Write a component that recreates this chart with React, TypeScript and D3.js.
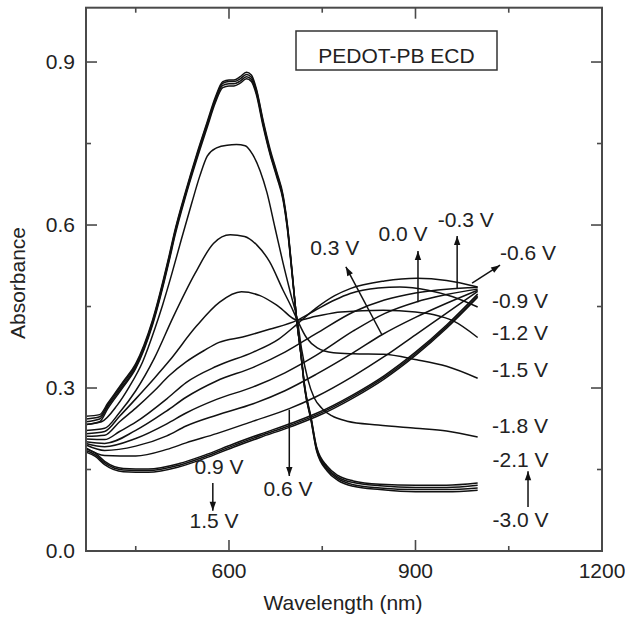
import React from "react";
import * as d3 from "d3";

// ---------- axes ----------
const xDomain = [370, 1200];
const yDomain = [0, 1.0];
const xMajorTicks = [600, 900, 1200];
const xMinorTicks = [450, 750, 1050];
const yMajorTicks = [0, 0.3, 0.6, 0.9];
const yMinorTicks = [0.15, 0.45, 0.75];
const xTickLabels = ["600", "900", "1200"];
const yTickLabels = ["0.0", "0.3", "0.6", "0.9"];
const xTitle = "Wavelength (nm)";
const yTitle = "Absorbance";
const boxTitle = "PEDOT-PB ECD";

// ---------- spectra: [wavelength nm, absorbance] ----------
const vM30 = [[370,0.233],[392,0.238],[405,0.262],[430,0.302],[450,0.336],[477,0.416],[504,0.535],[513,0.58],[530,0.652],[548,0.72],[565,0.78],[578,0.825],[590,0.853],[600,0.856],[608,0.856],[618,0.861],[628,0.869],[636,0.864],[644,0.84],[655,0.781],[666,0.73],[677,0.688],[687,0.646],[694,0.592],[701,0.515],[709,0.425],[716,0.358],[722,0.297],[732,0.24],[741,0.184],[758,0.147],[775,0.13],[800,0.119],[843,0.113],[900,0.109],[950,0.109],[1000,0.112]];
const vM27 = [[370,0.238],[392,0.243],[405,0.266],[430,0.305],[450,0.339],[477,0.419],[504,0.538],[513,0.584],[530,0.655],[548,0.724],[565,0.784],[578,0.829],[590,0.857],[600,0.86],[608,0.86],[618,0.865],[628,0.873],[636,0.868],[644,0.844],[655,0.785],[666,0.733],[677,0.691],[687,0.649],[694,0.595],[701,0.517],[709,0.425],[716,0.359],[722,0.298],[732,0.242],[741,0.186],[758,0.15],[775,0.133],[800,0.122],[843,0.116],[900,0.113],[950,0.113],[1000,0.116]];
const vM24 = [[370,0.243],[392,0.247],[405,0.269],[430,0.309],[450,0.342],[477,0.422],[504,0.542],[513,0.587],[530,0.658],[548,0.727],[565,0.787],[578,0.832],[590,0.861],[600,0.864],[608,0.864],[618,0.869],[628,0.877],[636,0.872],[644,0.848],[655,0.789],[666,0.736],[677,0.694],[687,0.652],[694,0.598],[701,0.519],[709,0.425],[716,0.36],[722,0.3],[732,0.244],[741,0.189],[758,0.153],[775,0.136],[800,0.126],[843,0.12],[900,0.117],[950,0.117],[1000,0.121]];
const vM21 = [[370,0.248],[392,0.251],[405,0.272],[430,0.312],[450,0.345],[477,0.425],[504,0.545],[513,0.59],[530,0.661],[548,0.73],[565,0.79],[578,0.835],[590,0.864],[600,0.867],[608,0.867],[618,0.873],[628,0.881],[636,0.876],[644,0.851],[655,0.792],[666,0.74],[677,0.697],[687,0.655],[694,0.6],[701,0.521],[709,0.425],[716,0.361],[722,0.302],[732,0.246],[741,0.191],[758,0.156],[775,0.139],[800,0.129],[843,0.123],[900,0.121],[950,0.121],[1000,0.125]];
const vM18 = [[370,0.233],[395,0.238],[420,0.268],[440,0.303],[461,0.348],[481,0.41],[493,0.452],[508,0.51],[523,0.572],[540,0.64],[553,0.69],[565,0.727],[580,0.742],[597,0.747],[612,0.748],[626,0.746],[638,0.73],[650,0.7],[661,0.66],[674,0.595],[687,0.53],[700,0.47],[710,0.425],[717,0.37],[727,0.315],[737,0.282],[750,0.262],[765,0.249],[790,0.239],[840,0.232],[900,0.226],[950,0.221],[1000,0.21]];
const vM15 = [[370,0.222],[400,0.226],[424,0.255],[450,0.295],[480,0.355],[510,0.43],[545,0.51],[575,0.566],[602,0.582],[625,0.579],[645,0.563],[665,0.533],[687,0.48],[700,0.45],[710,0.425],[725,0.392],[742,0.374],[768,0.365],[800,0.363],[848,0.362],[902,0.352],[950,0.34],[1000,0.318]];
const vM12 = [[370,0.216],[400,0.22],[424,0.248],[450,0.28],[480,0.318],[504,0.35],[547,0.413],[585,0.458],[620,0.477],[650,0.47],[680,0.45],[710,0.425],[740,0.432],[780,0.44],[848,0.443],[900,0.44],[930,0.435],[960,0.424],[1000,0.393]];
const vM09 = [[370,0.211],[400,0.213],[424,0.238],[450,0.263],[480,0.295],[504,0.323],[531,0.348],[560,0.369],[584,0.384],[622,0.394],[665,0.408],[710,0.425],[740,0.444],[770,0.462],[795,0.474],[840,0.484],[875,0.486],[920,0.48],[960,0.468],[1000,0.449]];
const vM06 = [[370,0.206],[400,0.205],[424,0.22],[450,0.237],[500,0.28],[531,0.31],[580,0.34],[639,0.366],[680,0.39],[710,0.418],[740,0.447],[770,0.47],[795,0.483],[850,0.497],[902,0.502],[950,0.498],[1000,0.486]];
const vM03 = [[370,0.201],[400,0.198],[450,0.222],[500,0.258],[531,0.283],[580,0.313],[639,0.338],[690,0.366],[740,0.4],[800,0.44],[850,0.462],[900,0.475],[950,0.482],[1000,0.485]];
const vP00 = [[370,0.198],[400,0.192],[450,0.207],[500,0.234],[531,0.254],[580,0.279],[639,0.302],[690,0.328],[740,0.36],[800,0.405],[850,0.437],[900,0.458],[950,0.472],[1000,0.482]];
const vP03 = [[370,0.195],[400,0.185],[450,0.193],[500,0.212],[531,0.23],[580,0.25],[639,0.271],[690,0.295],[740,0.325],[800,0.365],[846,0.398],[900,0.43],[950,0.456],[1000,0.48]];
const vP06 = [[370,0.19],[400,0.176],[450,0.175],[500,0.187],[531,0.199],[580,0.216],[639,0.239],[697,0.262],[740,0.284],[800,0.322],[850,0.358],[900,0.398],[950,0.438],[1000,0.478]];
const vP09 = [[370,0.188],[385,0.18],[400,0.165],[430,0.152],[470,0.151],[520,0.161],[560,0.176],[607,0.197],[650,0.215],[700,0.235],[740,0.253],[800,0.288],[850,0.323],[900,0.366],[950,0.416],[1000,0.473]];
const vP12 = [[370,0.185],[385,0.177],[400,0.162],[430,0.149],[470,0.148],[520,0.158],[560,0.173],[607,0.194],[650,0.212],[700,0.232],[740,0.25],[800,0.285],[850,0.32],[900,0.363],[950,0.413],[1000,0.47]];
const vP15 = [[370,0.182],[385,0.174],[400,0.159],[430,0.146],[470,0.145],[520,0.155],[560,0.17],[607,0.191],[650,0.209],[700,0.229],[740,0.247],[800,0.282],[850,0.317],[900,0.36],[950,0.41],[1000,0.467]];

const spectra = [vM30, vM27, vM24, vM21, vM18, vM15, vM12, vM09, vM06, vM03, vP00, vP03, vP06, vP09, vP12, vP15];

// ---------- annotations (data units) ----------
const labelTexts = ["0.3 V", "0.0 V", "-0.3 V", "-0.6 V", "-0.9 V", "-1.2 V", "-1.5 V", "-1.8 V", "-2.1 V", "-3.0 V", "0.9 V", "1.5 V", "0.6 V"];
const labelWl = [770, 880, 981, 1081, 1068, 1068, 1068, 1068, 1069, 1069, 584, 576, 695];
const labelAbs = [0.558, 0.585, 0.609, 0.55, 0.46, 0.401, 0.333, 0.230, 0.1675, 0.057, 0.156, 0.055, 0.114];

const arrowFrom = [[846, 0.398], [904, 0.458], [967, 0.484], [991, 0.493], [1081, 0.081], [574, 0.125], [697, 0.26]];
const arrowTo = [[788, 0.523], [904, 0.552], [967, 0.58], [1036, 0.526], [1081, 0.147], [574, 0.074], [697, 0.138]];

const FONT = "'Liberation Sans', Arial, Helvetica, sans-serif";

export default function App() {
  const W = 625, H = 618;
  const left = 86, right = 602, top = 7.7, bottom = 551;
  const x = d3.scaleLinear().domain(xDomain).range([left, right]);
  const y = d3.scaleLinear().domain(yDomain).range([bottom, top]);
  const line = d3.line<number[]>().x(d => x(d[0])).y(d => y(d[1])).curve(d3.curveMonotoneX);
  const axisColor = "#4a4a4a";
  const textColor = "#222";
  const majorLen = 11, minorLen = 5;

  const arrowHead = (fx: number, fy: number, tx: number, ty: number) => {
    const ang = Math.atan2(ty - fy, tx - fx);
    const L = 9, Wd = 3.2;
    const bx = tx - L * Math.cos(ang), by = ty - L * Math.sin(ang);
    const px = -Math.sin(ang) * Wd, py = Math.cos(ang) * Wd;
    return `M${tx},${ty}L${bx + px},${by + py}L${bx - px},${by - py}Z`;
  };

  return (
    <svg width={W} height={H} style={{ position: "absolute", left: 0, top: 0, background: "#fff" }} fontFamily={FONT}>
      <rect x={0} y={0} width={W} height={H} fill="#fff" />
      {/* spectra */}
      <g fill="none" stroke="#111" strokeWidth={1.5} strokeLinejoin="round">
        {spectra.map((s, i) => <path key={i} d={line(s) || ""} />)}
      </g>
      {/* frame */}
      <rect x={left} y={top} width={right - left} height={bottom - top} fill="none" stroke={axisColor} strokeWidth={2} />
      {/* ticks */}
      <g stroke={axisColor} strokeWidth={1.6}>
        {xMajorTicks.map(t => (
          <g key={"xm" + t}>
            <line x1={x(t)} x2={x(t)} y1={bottom} y2={bottom - majorLen} />
            <line x1={x(t)} x2={x(t)} y1={top} y2={top + majorLen} />
          </g>
        ))}
        {xMinorTicks.map(t => (
          <g key={"xn" + t}>
            <line x1={x(t)} x2={x(t)} y1={bottom} y2={bottom - minorLen} />
            <line x1={x(t)} x2={x(t)} y1={top} y2={top + minorLen} />
          </g>
        ))}
        {yMajorTicks.map(t => (
          <g key={"ym" + t}>
            <line x1={left} x2={left + majorLen} y1={y(t)} y2={y(t)} />
            <line x1={right} x2={right - majorLen} y1={y(t)} y2={y(t)} />
          </g>
        ))}
        {yMinorTicks.map(t => (
          <g key={"yn" + t}>
            <line x1={left} x2={left + minorLen} y1={y(t)} y2={y(t)} />
            <line x1={right} x2={right - minorLen} y1={y(t)} y2={y(t)} />
          </g>
        ))}
      </g>
      {/* tick labels */}
      <g fill={textColor} fontSize={21}>
        {xMajorTicks.map((t, i) => (
          <text key={"xl" + t} x={x(t)} y={bottom + 27} textAnchor="middle">{xTickLabels[i]}</text>
        ))}
        {yMajorTicks.map((t, i) => (
          <text key={"yl" + t} x={left - 11} y={y(t)} dy="0.35em" textAnchor="end">{yTickLabels[i]}</text>
        ))}
        <text x={(left + right) / 2 - 1} y={610} textAnchor="middle">{xTitle}</text>
        <text transform={`translate(25,${283}) rotate(-90)`} textAnchor="middle">{yTitle}</text>
      </g>
      {/* title box */}
      <rect x={296} y={31} width={201} height={39} fill="#fff" stroke="#333" strokeWidth={1.5} />
      <text x={396.5} y={63} textAnchor="middle" fontSize={21} fill={textColor}>{boxTitle}</text>
      {/* arrows */}
      <g stroke="#111" strokeWidth={1.5} fill="#111">
        {arrowFrom.map((f, i) => {
          const fx = x(f[0]), fy = y(f[1]);
          const tx = x(arrowTo[i][0]), ty = y(arrowTo[i][1]);
          return (
            <g key={"ar" + i}>
              <line x1={fx} y1={fy} x2={tx} y2={ty} />
              <path d={arrowHead(fx, fy, tx, ty)} stroke="none" />
            </g>
          );
        })}
      </g>
      {/* labels */}
      <g fill={textColor} fontSize={21}>
        {labelTexts.map((t, i) => (
          <text key={"lb" + i} x={x(labelWl[i])} y={y(labelAbs[i])} dy="0.35em" textAnchor="middle">{t}</text>
        ))}
      </g>
    </svg>
  );
}
